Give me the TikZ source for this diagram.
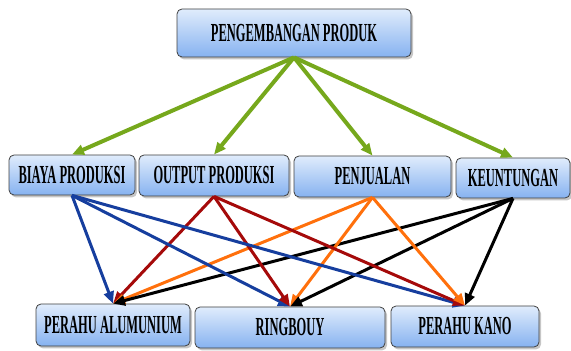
\documentclass[tikz,border=0pt]{standalone}
\usepackage{fontspec}
\setmainfont{Liberation Serif}[FakeStretch=0.48]
\usepackage{tikz}
\usetikzlibrary{arrows.meta,shadows}
\definecolor{hijau}{RGB}{118,168,28}
\definecolor{biru}{RGB}{22,62,158}
\definecolor{merah}{RGB}{165,10,10}
\definecolor{oranye}{RGB}{255,112,12}
\definecolor{kotakatas}{RGB}{224,236,252}
\definecolor{kotakbawah}{RGB}{134,178,240}
\tikzset{
  kotak/.style={draw=black!75,rounded corners=2.5pt,
    drop shadow={shadow xshift=1pt,shadow yshift=-1.2pt,opacity=0.45},
    top color=kotakatas,bottom color=kotakbawah,inner sep=0pt,
    font=\bfseries\fontsize{13}{15}\selectfont},
  panah/.style={-{Triangle[length=6pt,width=5pt]},line width=1.5pt},
  panahtebal/.style={panah,line width=2pt}
}
\begin{document}
\begin{tikzpicture}[x=0.5pt,y=-0.5pt]
\useasboundingbox (0,0) rectangle (571,351);
% atas
\node[kotak,minimum width=117pt,minimum height=24pt] (top) at (294,33) {PENGEMBANGAN PRODUK};
% tengah
\node[kotak,minimum width=63pt,minimum height=20pt] (biaya) at (72,175) {BIAYA PRODUKSI};
\node[kotak,minimum width=75pt,minimum height=20.5pt] (output) at (214,175.5) {OUTPUT PRODUKSI};
\node[kotak,minimum width=78.5pt,minimum height=20.5pt] (jual) at (372.5,176.5) {PENJUALAN};
\node[kotak,minimum width=57pt,minimum height=20pt] (untung) at (513,178) {KEUNTUNGAN};
% bawah
\node[kotak,minimum width=77pt,minimum height=21pt] (alu) at (113,325) {PERAHU ALUMUNIUM};
\node[kotak,minimum width=95pt,minimum height=20.5pt] (ring) at (290,327.5) {RINGBOUY};
\node[kotak,minimum width=74pt,minimum height=20.5pt] (kano) at (465,326.5) {PERAHU KANO};

\foreach \t in {biaya,output,jual,untung}
  \draw[panahtebal,hijau] (top.south) -- (\t.north);

\foreach \t in {alu,ring,kano} {
  \draw[panah,biru] (biaya.south) -- (\t.north);
  \draw[panah,merah] (output.south) -- (\t.north);
  \draw[panah,oranye] (jual.south) -- (\t.north);
  \draw[panah,black] (untung.south) -- (\t.north);
}
\end{tikzpicture}
\end{document}
